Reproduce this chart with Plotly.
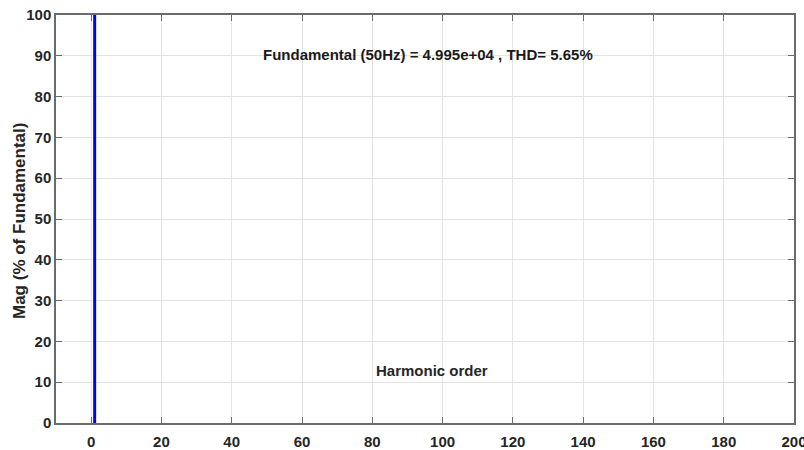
import plotly.graph_objects as go

# Harmonic spectrum (percent of fundamental)
harmonic_order = [1]
magnitude_pct = [100]

x_ticks = [0, 20, 40, 60, 80, 100, 120, 140, 160, 180, 200]
y_ticks = [0, 10, 20, 30, 40, 50, 60, 70, 80, 90, 100]

title_text = "Fundamental (50Hz) = 4.995e+04 , THD= 5.65%"
xlabel_text = "Harmonic order"
ylabel_text = "Mag (% of Fundamental)"

W, H = 804, 450
L, R, T, B = 56, 10, 15, 27
pw, ph = W - L - R, H - T - B


def px_to_paper(px, py):
    return (px - L) / pw, 1 - (py - T) / ph


tick_font = dict(family="Liberation Sans, Arial", size=15, color="#262626", weight="bold")

fig = go.Figure()
fig.add_trace(go.Bar(
    x=harmonic_order, y=magnitude_pct, width=0.85,
    marker=dict(color="#0000ff", line=dict(width=0)),
))

axis_common = dict(
    showline=True, linecolor="#6b6b6b", linewidth=1.5, mirror="ticks",
    ticks="inside", ticklen=6, tickcolor="#6b6b6b", tickwidth=1.2,
    showgrid=True, gridcolor="#e3e3e3", gridwidth=1, zeroline=False,
    tickfont=tick_font, automargin=False, ticklabeloverflow="allow",
)

tx, ty = px_to_paper(428, 55)
hx, hy = px_to_paper(432, 370)
lx, ly = px_to_paper(19, 221)

fig.update_layout(
    width=W, height=H,
    margin=dict(l=L, r=R, t=T, b=B),
    plot_bgcolor="white", paper_bgcolor="white",
    showlegend=False,
    xaxis=dict(range=[-10, 200], tickvals=x_ticks, ticklabelstandoff=4, **axis_common),
    yaxis=dict(range=[0, 100], tickvals=y_ticks, **axis_common),
    annotations=[
        dict(text="<b>" + title_text + "</b>", x=tx, y=ty, xref="paper", yref="paper",
             xanchor="center", yanchor="middle", showarrow=False,
             font=dict(family="Liberation Sans, Arial", size=15, color="#1a1a1a")),
        dict(text="<b>" + xlabel_text + "</b>", x=hx, y=hy, xref="paper", yref="paper",
             xanchor="center", yanchor="middle", showarrow=False,
             font=dict(family="Liberation Sans, Arial", size=15, color="#262626")),
        dict(text="<b>" + ylabel_text + "</b>", x=lx, y=ly, xref="paper", yref="paper",
             xanchor="center", yanchor="middle", showarrow=False, textangle=-90,
             font=dict(family="Liberation Sans, Arial", size=17, color="#262626")),
    ],
)

fig.write_html("out.html")
